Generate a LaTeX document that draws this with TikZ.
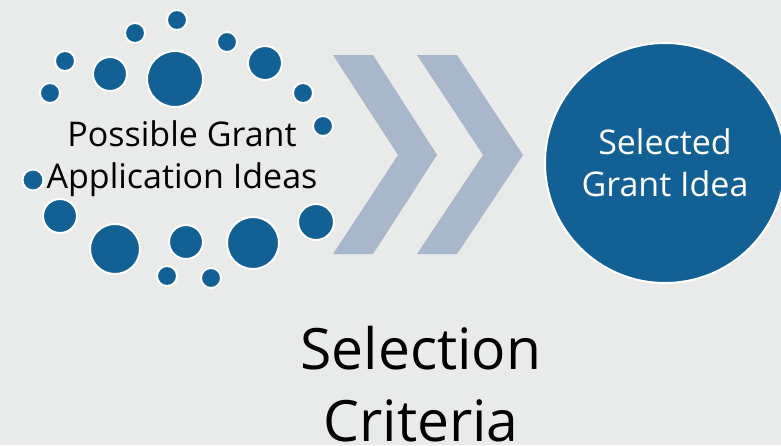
\documentclass[tikz,border=0pt]{standalone}
\usepackage{fontspec}
\setmainfont{Open Sans}
\definecolor{ideablue}{HTML}{136194}
\definecolor{chevrongray}{HTML}{A9B7CA}
\definecolor{backgray}{HTML}{E9EAEA}
\tikzset{
	idea/.style={fill=ideablue, draw=white, line width=2pt},
	chevron/.style={fill=chevrongray},
}
\begin{document}
\begin{tikzpicture}[x=1pt, y=-1pt]
		\useasboundingbox (0,0) rectangle (781,445);
		\fill[backgray] (0,0) rectangle (781,445);
		
		% scattered ideas
		\foreach \px/\py/\r in {177/20/10, 135/33/10, 227/42/10, 65/61/10, 110/74/17,
			175/79/28, 265/63/17, 50/93/10, 303/93/10, 323/126/10, 33/180/10.5,
			60/216/17, 115/249/25, 186/242/17, 253/243/26, 316/222/18, 167/276/10, 211/278/10}
		\draw[idea] (\px,\py) circle (\r);
		
		% chevrons
		\fill[chevron] (333,55) -- (373,55) -- (437,155) -- (373,254) -- (333,254) -- (398,155) -- cycle;
		\fill[chevron] (417,55) -- (457,55) -- (523,155) -- (457,254) -- (417,254) -- (483,155) -- cycle;
		
		\node[draw=white, line width=2pt, fill=ideablue, circle, minimum size=240pt, inner sep=0pt] (sel) at (665,163) {};
		
		\node[align=center, font=\fontsize{34}{42}\selectfont] (ideas) at (182,159) {Possible Grant\\Application Ideas};
		\node[align=center, font=\fontsize{34}{42}\selectfont, text=white] (chosen) at (sel) {Selected\\Grant Idea};
		\node[align=center, font=\fontsize{57}{72}\selectfont] (criteria) at (421,384) {Selection\\Criteria};
		\end{tikzpicture}
\end{document}
